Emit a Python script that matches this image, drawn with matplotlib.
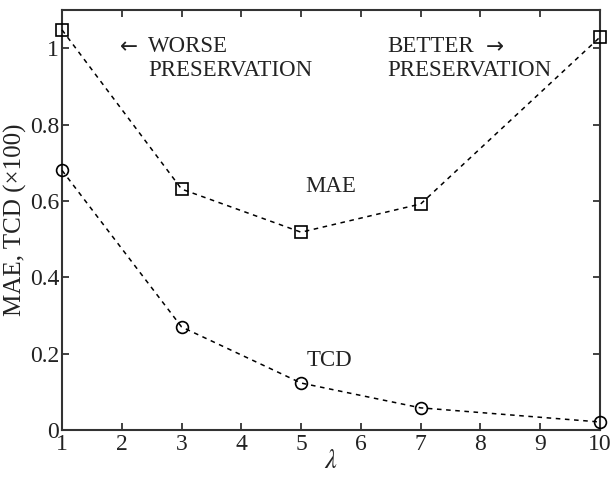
import matplotlib
matplotlib.use("Agg")
import matplotlib.pyplot as plt
from matplotlib.ticker import FixedLocator, FixedFormatter

lam = [1, 3, 5, 7, 10]
mae = [1.048, 0.631, 0.518, 0.592, 1.029]
tcd = [0.680, 0.270, 0.123, 0.058, 0.021]
xticks = [1, 2, 3, 4, 5, 6, 7, 8, 9, 10]
xticklabels = ["1", "2", "3", "4", "5", "6", "7", "8", "9", "10"]
yticks = [0, 0.2, 0.4, 0.6, 0.8, 1.0]
yticklabels = ["0", "0.2", "0.4", "0.6", "0.8", "1"]

plt.rcParams['font.family'] = ['Liberation Serif', 'DejaVu Serif']
plt.rcParams['mathtext.fontset'] = 'stix'

fig = plt.figure(figsize=(6.10, 4.79), dpi=100)
ax = fig.add_axes([62/610, 49/479, 538/610, 420/479])

ls = (0, (3, 3))
ax.plot(lam, mae, color='black', linestyle=ls, linewidth=1.1, marker='s',
        markersize=8.5, markerfacecolor='none', markeredgecolor='black',
        markeredgewidth=1.2, clip_on=False, zorder=3)
ax.plot(lam, tcd, color='black', linestyle=ls, linewidth=1.1, marker='o',
        markersize=8.5, markerfacecolor='none', markeredgecolor='black',
        markeredgewidth=1.2, clip_on=False, zorder=3)

ax.set_xlim(1, 10)
ax.set_ylim(0, 1.1)
ax.xaxis.set_major_locator(FixedLocator(xticks))
ax.xaxis.set_major_formatter(FixedFormatter(xticklabels))
ax.yaxis.set_major_locator(FixedLocator(yticks))
ax.yaxis.set_major_formatter(FixedFormatter(yticklabels))

for s in ax.spines.values():
    s.set_linewidth(1.5)
    s.set_color('#333333')
ax.tick_params(direction='in', length=5, width=1.3, color='#333333',
               top=True, right=True, labelsize=17, labelcolor='#222222')
ax.tick_params(axis='x', pad=3)
ax.tick_params(axis='y', pad=2)

ax.set_xlabel(r'$\lambda$', fontsize=19, labelpad=-4, color='#222222')
ax.set_ylabel('MAE, TCD (×100)', fontsize=18, labelpad=2, color='#222222')

tc = '#222222'
fs = 16.5
ax.text(120/610, 1 - 47/479, '←', transform=fig.transFigure, fontsize=fs - 1,
        va='center', ha='left', color=tc, family=['DejaVu Sans'])
ax.text(148/610, 1 - 47/479, 'WORSE', transform=fig.transFigure, fontsize=fs,
        va='center', ha='left', color=tc)
ax.text(148/610, 1 - 70/479, 'PRESERVATION', transform=fig.transFigure, fontsize=fs,
        va='center', ha='left', color=tc)
ax.text(387/610, 1 - 47/479, 'BETTER', transform=fig.transFigure, fontsize=fs,
        va='center', ha='left', color=tc)
ax.text(486/610, 1 - 47/479, '→', transform=fig.transFigure, fontsize=fs - 1,
        va='center', ha='left', color=tc, family=['DejaVu Sans'])
ax.text(387/610, 1 - 70/479, 'PRESERVATION', transform=fig.transFigure, fontsize=fs,
        va='center', ha='left', color=tc)
ax.text(331/610, 1 - 187/479, 'MAE', transform=fig.transFigure, fontsize=fs,
        va='center', ha='center', color=tc)
ax.text(329/610, 1 - 360/479, 'TCD', transform=fig.transFigure, fontsize=fs,
        va='center', ha='center', color=tc)

fig.savefig('out.png', dpi=100)
